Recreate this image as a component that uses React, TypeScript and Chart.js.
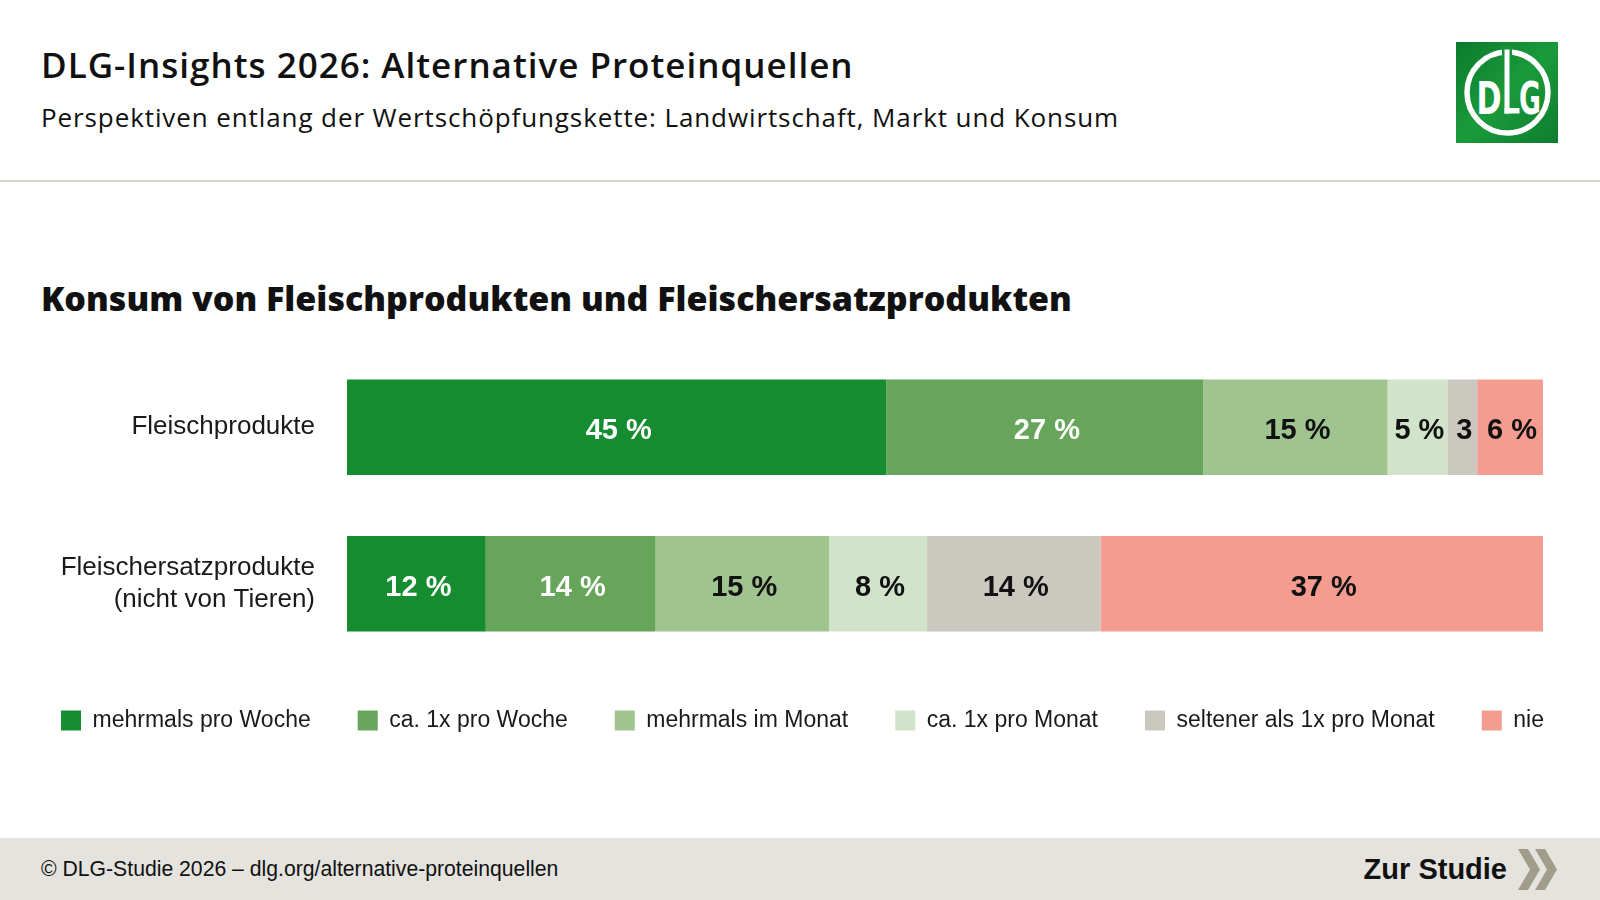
import React, { useEffect, useRef } from "react";
import { Chart, registerables } from "chart.js";

Chart.register(...registerables);

// ---- data ----
const categories: (string | string[])[] = [
  "Fleischprodukte",
  ["Fleischersatzprodukte", "(nicht von Tieren)"],
];
const seriesNames = [
  "mehrmals pro Woche",
  "ca. 1x pro Woche",
  "mehrmals im Monat",
  "ca. 1x pro Monat",
  "seltener als 1x pro Monat",
  "nie",
];
// shares per frequency
const fleischValues = [45.1, 26.5, 15.4, 5.0, 2.5, 5.5];
const ersatzValues = [11.6, 14.2, 14.5, 8.2, 14.5, 37.0];
// printed labels
const fleischLabels = ["45 %", "27 %", "15 %", "5 %", "3", "6 %"];
const ersatzLabels = ["12 %", "14 %", "15 %", "8 %", "14 %", "37 %"];

const seriesColors = ["#168c30", "#67a65a", "#a0c490", "#d1e3c8", "#cbc8bf", "#f39c8f"];
const labelColors = ["#ffffff", "#ffffff", "#111111", "#111111", "#111111", "#111111"];

const rowValues = [fleischValues, ersatzValues];
const rowLabels = [fleischLabels, ersatzLabels];

const segmentLabelPlugin = {
  id: "segmentLabels",
  afterDatasetsDraw(chart: any) {
    const ctx = chart.ctx;
    chart.data.datasets.forEach((_ds: any, di: number) => {
      const meta = chart.getDatasetMeta(di);
      meta.data.forEach((bar: any, i: number) => {
        const text = rowLabels[i][di];
        const { x, y, base } = bar.getProps(["x", "y", "base"], true);
        ctx.save();
        ctx.font = 'bold 29px "Liberation Sans", Arial, sans-serif';
        ctx.fillStyle = labelColors[di];
        ctx.textAlign = "center";
        ctx.textBaseline = "middle";
        ctx.fillText(text, (x + base) / 2 + 2, y + 4);
        ctx.restore();
      });
    });
  },
};

function StackedChart() {
  const ref = useRef<HTMLCanvasElement | null>(null);
  useEffect(() => {
    if (!ref.current) return;
    const chart = new Chart(ref.current, {
      type: "bar",
      data: {
        labels: categories as any,
        datasets: seriesNames.map((name, si) => ({
          label: name,
          data: rowValues.map((row) => row[si]),
          backgroundColor: seriesColors[si],
          borderWidth: 0,
          barPercentage: 0.61,
          categoryPercentage: 1,
          yAxisID: "y",
        })),
      },
      options: {
        indexAxis: "y",
        animation: false,
        responsive: false,
        maintainAspectRatio: false,
        layout: { padding: { top: 9, bottom: 0, left: 0, right: 0 } },
        scales: {
          x: { stacked: true, min: 0, max: 100, display: false },
          y: {
            stacked: true,
            position: "left",
            grid: { display: false, drawTicks: false },
            border: { display: false },
            ticks: {
              padding: 32,
              color: "#1a1a1a",
              font: { family: '"Liberation Sans", Arial, sans-serif', size: 26, lineHeight: 1.2 },
            },
            afterFit: (s: any) => {
              s.width = 347;
              s.paddingTop = 0;
              s.paddingBottom = 0;
            },
          },
          yRight: {
            type: "linear",
            position: "right",
            display: true,
            grid: { display: false, drawTicks: false },
            border: { display: false },
            ticks: { display: false },
            afterFit: (s: any) => {
              s.width = 62;
              s.paddingTop = 0;
              s.paddingBottom = 0;
            },
          },
        },
        plugins: {
          title: { display: false },
          tooltip: { enabled: false },
          legend: {
            display: true,
            position: "bottom",
            labels: {
              boxWidth: 20,
              boxHeight: 20,
              padding: 47,
              color: "#1a1a1a",
              font: { family: '"Liberation Sans", Arial, sans-serif', size: 23 },
            },
          },
        },
      } as any,
      plugins: [segmentLabelPlugin],
    });
    return () => chart.destroy();
  }, []);
  return (
    <canvas
      ref={ref}
      width={1605}
      height={402}
      style={{ position: "absolute", left: 0, top: 340, width: 1605, height: 402 }}
    />
  );
}

function Logo() {
  return (
    <svg width={102} height={101} viewBox="0 0 102 101" style={{ position: "absolute", left: 1456, top: 42 }}>
      <defs>
        <linearGradient id="lg" x1="0" y1="0" x2="1" y2="1">
          <stop offset="0" stopColor="#0c7a2c" />
          <stop offset="0.5" stopColor="#1a9a3b" />
          <stop offset="1" stopColor="#0d7d2e" />
        </linearGradient>
      </defs>
      <rect x={0} y={0} width={102} height={101} fill="url(#lg)" />
      <circle cx={51.5} cy={50.5} r={40.5} fill="none" stroke="#fff" strokeWidth={5.5} />
      <rect x={46} y={4} width={10} height={14} fill="#179338" />
      <rect x={48.5} y={7.5} width={5} height={64} fill="#fff" />
      <text
        x={33}
        y={72}
        fill="#fff"
        fontFamily='"DejaVu Sans", sans-serif'
        fontWeight="bold"
        fontSize={58}
        textAnchor="middle"
        transform="translate(33 72) scale(0.52 0.78) translate(-33 -72)"
      >
        D
      </text>
      <rect x={48.5} y={66} width={15} height={5.5} fill="#fff" />
      <text
        x={74}
        y={72}
        fill="#fff"
        fontFamily='"DejaVu Sans", sans-serif'
        fontWeight="bold"
        fontSize={58}
        textAnchor="middle"
        transform="translate(74 72) scale(0.46 0.78) translate(-74 -72)"
      >
        G
      </text>
    </svg>
  );
}

function Chevrons() {
  return (
    <svg width={44} height={44} viewBox="0 0 44 44" style={{ position: "absolute", left: 1516, top: 848 }}>
      <polygon points="2,1 12,1 24,21.5 12,42 2,42 14,21.5" fill="#a29d8a" />
      <polygon points="19,1 29,1 41,21.5 29,42 19,42 31,21.5" fill="#a29d8a" />
    </svg>
  );
}

export default function App() {
  useEffect(() => {
    document.body.style.margin = "0";
  }, []);
  return (
    <div
      style={{
        position: "relative",
        width: 1600,
        height: 900,
        overflow: "hidden",
        background: "#ffffff",
        fontFamily: '"Liberation Sans", Arial, sans-serif',
        color: "#111",
      }}
    >
      <div
        style={{
          position: "absolute",
          left: 41,
          top: 43,
          fontFamily: '"Open Sans", sans-serif',
          fontWeight: 600,
          fontSize: 35,
          letterSpacing: "1px",
          lineHeight: "44px",
          whiteSpace: "nowrap",
          color: "#111",
        }}
      >
        DLG-Insights 2026: Alternative Proteinquellen
      </div>
      <div
        style={{
          position: "absolute",
          left: 41,
          top: 100,
          fontFamily: '"Open Sans", sans-serif',
          fontWeight: 400,
          fontSize: 26,
          letterSpacing: "0.9px",
          lineHeight: "34px",
          whiteSpace: "nowrap",
          color: "#111",
        }}
      >
        Perspektiven entlang der Wertschöpfungskette: Landwirtschaft, Markt und Konsum
      </div>
      <Logo />
      <div style={{ position: "absolute", left: 0, top: 180, width: 1600, height: 2, background: "#d8d6cb" }} />
      <div
        style={{
          position: "absolute",
          left: 41,
          top: 276,
          fontFamily: '"Open Sans", sans-serif',
          fontWeight: 800,
          fontSize: 34,
          lineHeight: "44px",
          whiteSpace: "nowrap",
          color: "#111",
        }}
      >
        Konsum von Fleischprodukten und Fleischersatzprodukten
      </div>
      <StackedChart />
      <div style={{ position: "absolute", left: 0, top: 838, width: 1600, height: 62, background: "#e4e3de" }} />
      <div
        style={{
          position: "absolute",
          left: 41,
          top: 856,
          fontSize: 21.2,
          lineHeight: "26px",
          whiteSpace: "nowrap",
          color: "#111",
        }}
      >
        © DLG-Studie 2026 – dlg.org/alternative-proteinquellen
      </div>
      <div
        style={{
          position: "absolute",
          right: 93,
          top: 851,
          fontSize: 29,
          fontWeight: 700,
          lineHeight: "36px",
          whiteSpace: "nowrap",
          color: "#111",
        }}
      >
        Zur Studie
      </div>
      <Chevrons />
    </div>
  );
}
